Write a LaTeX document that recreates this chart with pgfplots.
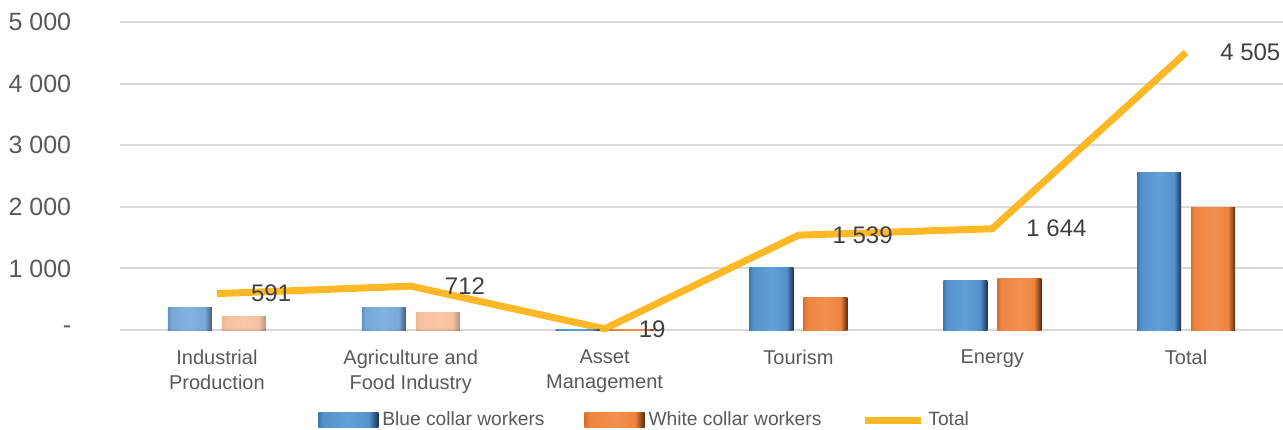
\documentclass[border=0pt]{standalone}
\usepackage{pgfplots}
\pgfplotsset{compat=1.18}
\usepackage{fontspec}
\setmainfont{Liberation Sans}
\definecolor{tickgray}{HTML}{595959}
\definecolor{lblgray}{HTML}{404040}
\definecolor{gridgray}{HTML}{D9D9D9}
\definecolor{bluemid}{HTML}{5592CC}
\definecolor{bluelight}{HTML}{62A0DA}
\definecolor{blueleft}{HTML}{3F78B0}
\definecolor{bluedark}{HTML}{1C3450}
\definecolor{orgmid}{HTML}{EE8440}
\definecolor{orglight}{HTML}{F39050}
\definecolor{orgleft}{HTML}{D86E2C}
\definecolor{orgdark}{HTML}{5E2C0C}
\definecolor{gold}{HTML}{FDB827}
\pgfdeclarehorizontalshading{bluebevel}{100bp}{color(0bp)=(blueleft); color(25bp)=(blueleft); color(29bp)=(bluemid); color(50bp)=(bluelight); color(67bp)=(bluemid); color(75bp)=(bluedark); color(100bp)=(bluedark)}
\pgfdeclarehorizontalshading{orgbevel}{100bp}{color(0bp)=(orgleft); color(25bp)=(orgleft); color(29bp)=(orgmid); color(50bp)=(orglight); color(67bp)=(orgmid); color(75bp)=(orgdark); color(100bp)=(orgdark)}
\pgfplotsset{
  barleg/.style={legend image code/.code={\path[##1] (0pt,-3.75pt) rectangle (30pt,3.75pt);}},
  lineleg/.style={legend image code/.code={\draw[##1] (0pt,0pt) -- (28pt,0pt);}},
  bbar/.style={ybar, bar width=22pt, bar shift=-13.5pt, draw=none, shading=bluebevel},
  obar/.style={ybar, bar width=22pt, bar shift=13.5pt, draw=none, shading=orgbevel},
}
\begin{document}
\begin{tikzpicture}
\useasboundingbox (-60pt,-49.5pt) rectangle (581.5pt,165pt);
\begin{axis}[
  scale only axis, width=581.5pt, height=154pt,
  xmin=-0.5, xmax=5.5, ymin=0, ymax=5000,
  axis line style={draw=none},
  major tick length=0pt,
  ymajorgrids, grid style={draw=gridgray, line width=1pt},
  xtick={0,...,5},
  xticklabels={{Industrial\\Production},{Agriculture and\\Food Industry},{Asset\\Management},Tourism,Energy,Total},
  xticklabel style={align=center, font=\fontsize{10}{12.5}\selectfont, text=tickgray, yshift=-6.5pt},
  ytick={0,1000,2000,3000,4000,5000},
  yticklabels={{-\hspace{5.5pt}},1 000,2 000,3 000,4 000,5 000},
  yticklabel style={font=\fontsize{12.5}{15}\selectfont, text=tickgray, xshift=-20.9pt},
  legend style={at={(0.452,0)}, anchor=center, yshift=-45pt, draw=none, fill=none,
    legend columns=3, font=\fontsize{9.6}{12}\selectfont, text=tickgray,
    /tikz/every even column/.append style={column sep=18pt}},
  clip=false,
]
\addplot[bbar, barleg] coordinates {(3,1010)};
\addlegendentry{Blue collar workers}
\addplot[obar, barleg] coordinates {(3,529)};
\addlegendentry{White collar workers}
\addplot[color=gold, line width=3.5pt, line join=round, mark=none,
  nodes near coords, point meta=explicit symbolic,
  nodes near coords style={anchor=west, xshift=12pt, font=\fontsize{12}{14}\selectfont, text=lblgray},
  lineleg]
  coordinates {(0,591) [591] (1,712) [712] (2,19) [19] (3,1539) [1 539] (4,1644) [1 644] (5,4505) [4 505]};
\addlegendentry{Total}
\addplot[bbar, opacity=0.8, forget plot] coordinates {(0,370)};
\addplot[obar, opacity=0.5, forget plot] coordinates {(0,221)};
\addplot[bbar, opacity=0.8, forget plot] coordinates {(1,360)};
\addplot[obar, opacity=0.5, forget plot] coordinates {(1,290)};
\addplot[bbar, forget plot] coordinates {(2,10)};
\addplot[obar, forget plot] coordinates {(2,9)};
\addplot[bbar, forget plot] coordinates {(4,810)};
\addplot[obar, forget plot] coordinates {(4,834)};
\addplot[bbar, forget plot] coordinates {(5,2560)};
\addplot[obar, forget plot] coordinates {(5,1990)};
\end{axis}
\end{tikzpicture}
\end{document}
